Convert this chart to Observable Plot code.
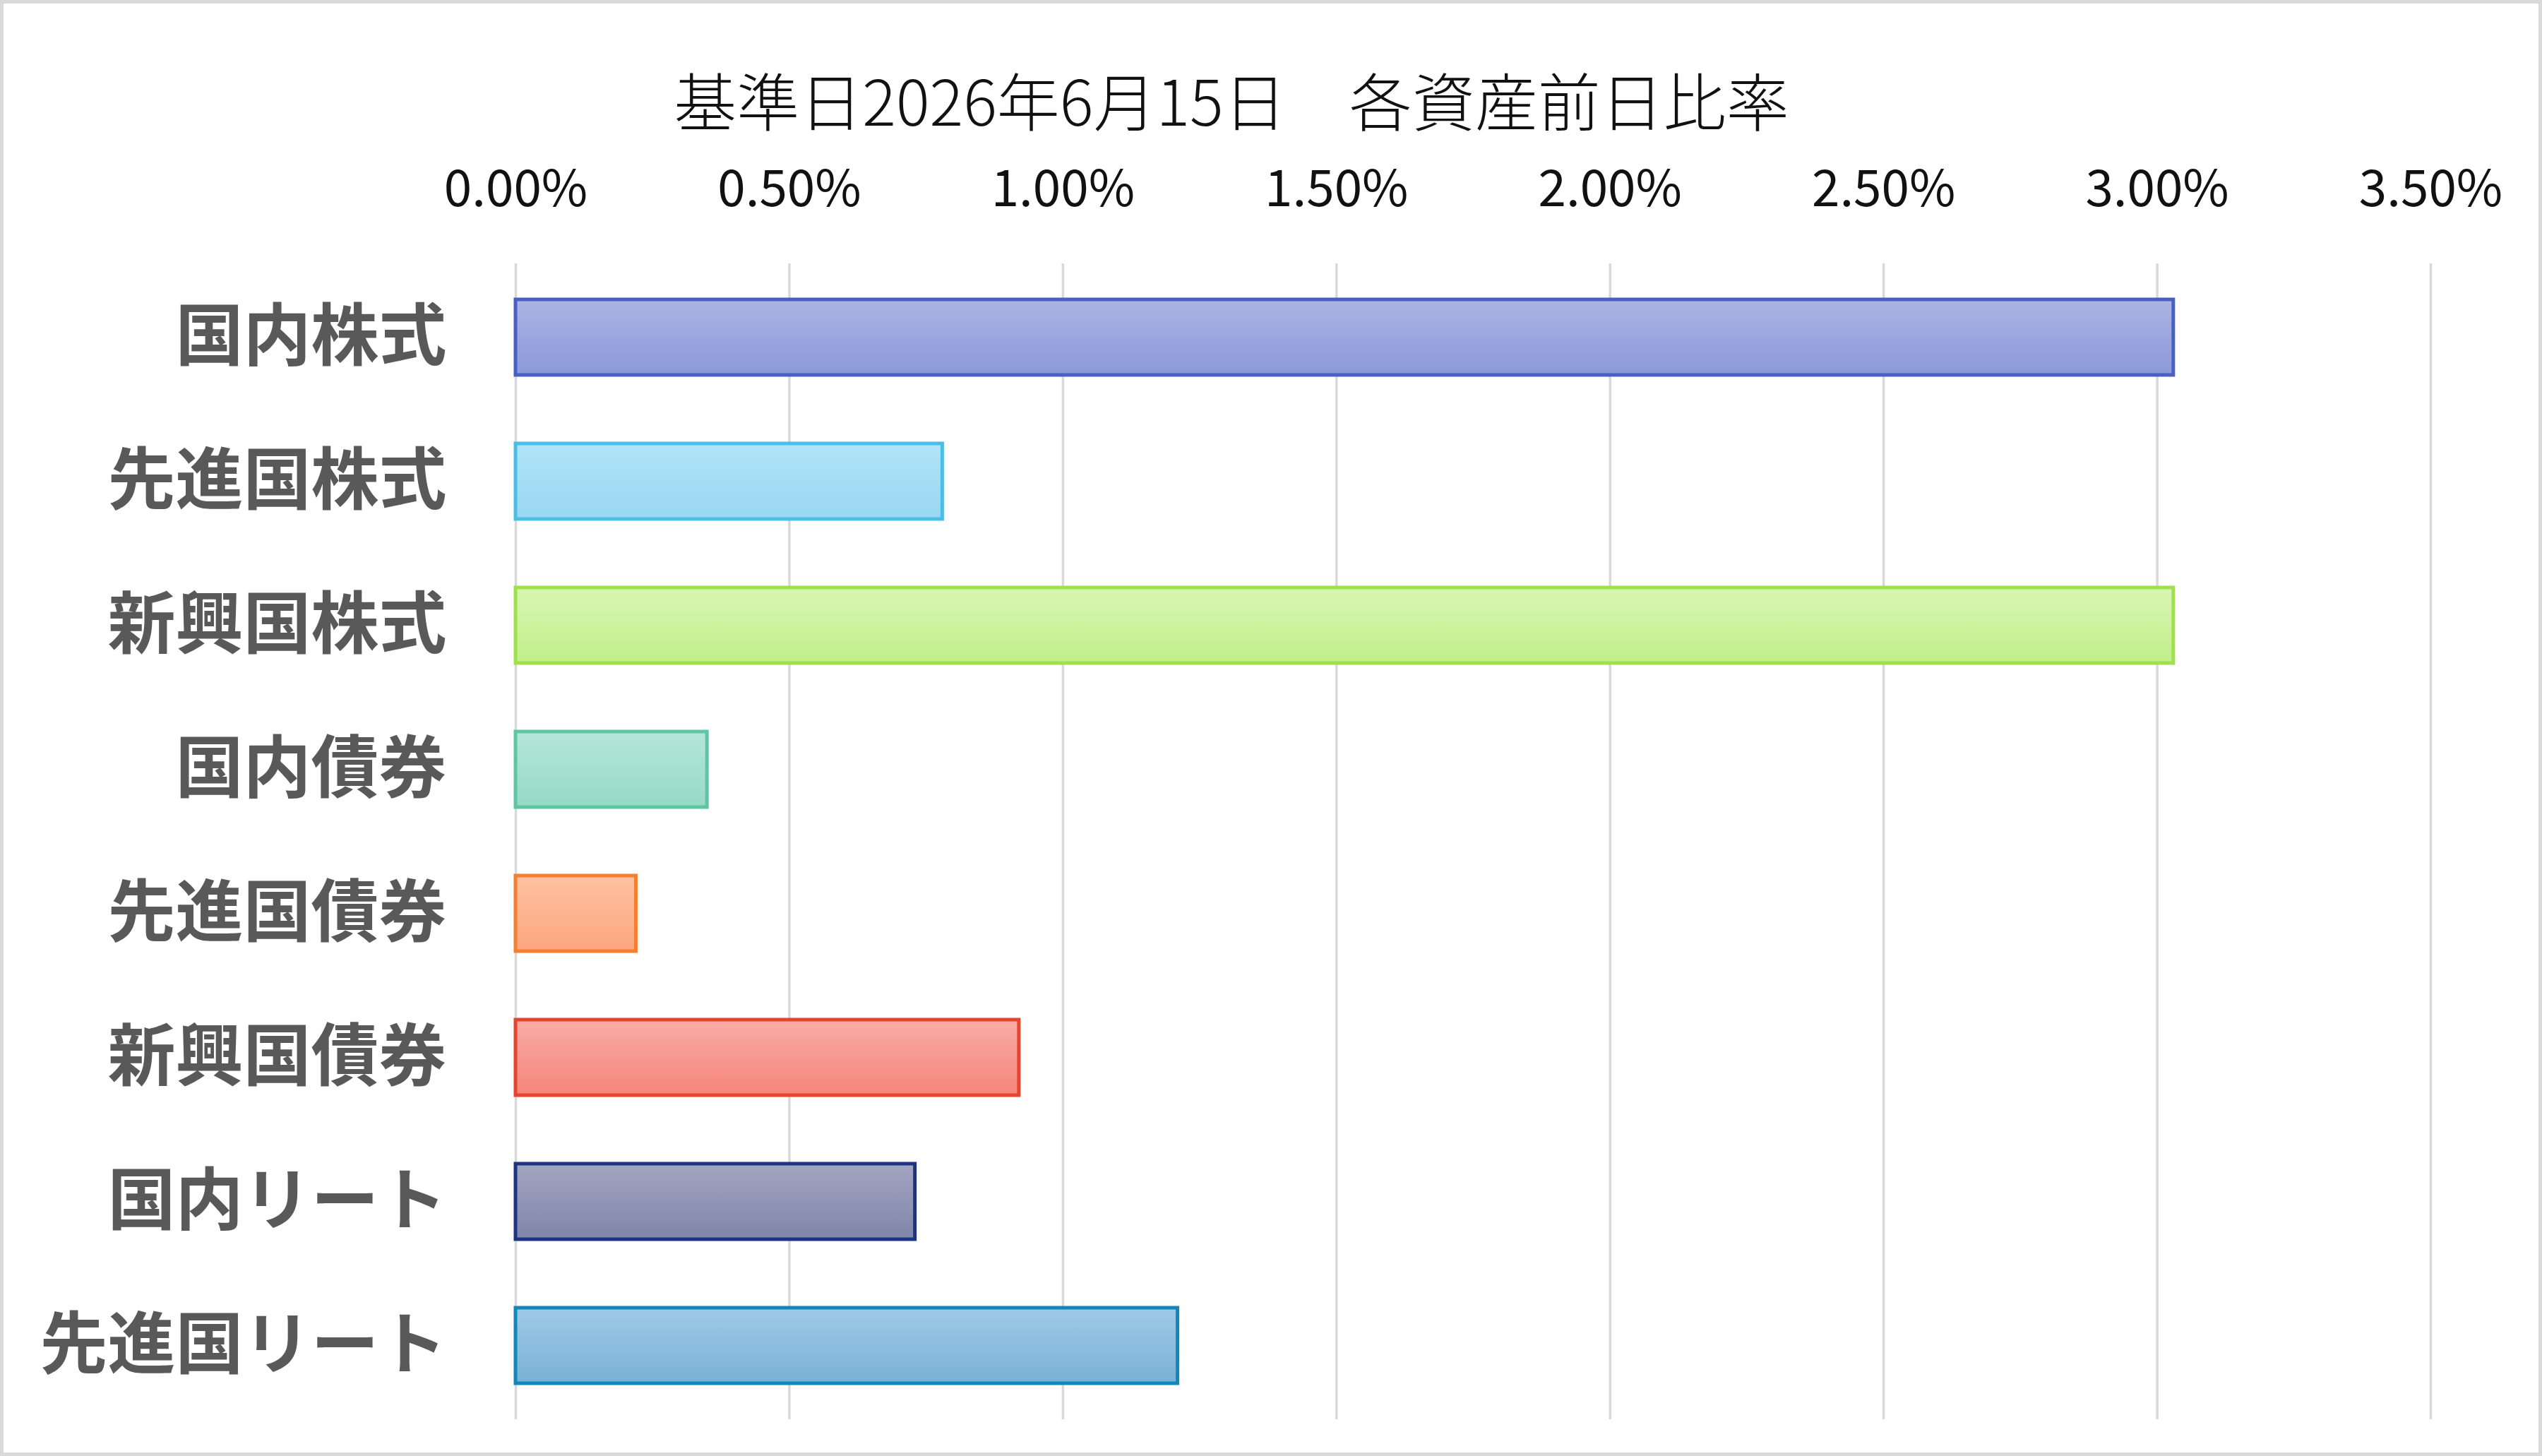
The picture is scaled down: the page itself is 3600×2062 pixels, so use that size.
<!DOCTYPE html>
<html>
<head>
<meta charset="utf-8">
<script src="https://cdn.jsdelivr.net/npm/d3@7"></script>
<script src="https://cdn.jsdelivr.net/npm/@observablehq/plot@0.6"></script>
<style>
  html, body { margin: 0; padding: 0; background: #fff; }
  #wrap { position: relative; width: 3600px; height: 2062px; background: #fff; overflow: hidden; }
  #border { position: absolute; left: 0; top: 0; width: 3600px; height: 2062px; box-sizing: border-box; border: 5px solid #d9d9d9; pointer-events: none; }
  #title { height: 200px; box-sizing: border-box; padding-top: 96px; padding-right: 112px; text-align: center;
           font-family: "Noto Sans CJK JP", sans-serif; font-weight: 300; font-size: 89px; line-height: 88px; color: #111; white-space: pre; }
  #chart svg { display: block; }
</style>
</head>
<body>
<div id="wrap">
  <div id="title">基準日2026年6月15日　各資産前日比率</div>
  <div id="chart"></div>
  <div id="border"></div>
</div>
<script>
// ---- data ----
const categories = ["国内株式", "先進国株式", "新興国株式", "国内債券", "先進国債券", "新興国債券", "国内リート", "先進国リート"];
const values = [3.03, 0.78, 3.03, 0.35, 0.22, 0.92, 0.73, 1.21];
const tickValues = [0, 0.5, 1.0, 1.5, 2.0, 2.5, 3.0, 3.5];
// gradient top / bottom and outline colours per category
const fillTop = ["#abb4e3", "#b0e4f9", "#d8f6b4", "#b4e7d8", "#ffc2a3", "#f9aca6", "#a3a5c1", "#9fcae6"];
const fillBottom = ["#8c99da", "#99d7f2", "#c0ef88", "#96dac4", "#fca67e", "#f6857c", "#8086aa", "#79b1d6"];
const strokeColors = ["#4a5fc2", "#4dbde6", "#a0e04c", "#60c4a7", "#f47f30", "#e4452f", "#1f3480", "#1487b8"];

const rows = categories.map((c, i) => ({
  category: c,
  value: values[i],
  fill: `url(#barGrad${i})`,
  stroke: strokeColors[i]
}));

const chart = Plot.plot({
  width: 3600,
  height: 1850,
  marginLeft: 730,
  marginRight: 158,
  marginTop: 173,
  marginBottom: 40,
  style: { fontFamily: "'Noto Sans CJK JP', sans-serif", background: "transparent", overflow: "visible" },
  x: { domain: [0, 3.5], label: null },
  y: { domain: categories, paddingInner: 0.476, paddingOuter: 0.238, label: null },
  color: { type: "identity" },
  marks: [
    Plot.gridX(tickValues, { stroke: "#d9d9d9", strokeOpacity: 1, strokeWidth: 3.5 }),
    Plot.barX(rows, { x: "value", y: "category", fill: "fill", stroke: "stroke", strokeWidth: 5 }),
    Plot.axisX(tickValues, { anchor: "top", tickSize: 0, tickPadding: 82, fontSize: 71, fill: "#111",
      tickFormat: d => d.toFixed(2) + "%", label: null }),
    Plot.axisY({ anchor: "left", tickSize: 0, tickPadding: 98, fontSize: 96, fontWeight: "bold", fill: "#595959", label: null })
  ]
});

// gradient definitions for bar fills
const svg = d3.select(chart);
const defs = svg.insert("defs", ":first-child");
categories.forEach((c, i) => {
  const g = defs.append("linearGradient").attr("id", `barGrad${i}`)
    .attr("x1", 0).attr("y1", 0).attr("x2", 0).attr("y2", 1);
  g.append("stop").attr("offset", "0%").attr("stop-color", fillTop[i]);
  g.append("stop").attr("offset", "100%").attr("stop-color", fillBottom[i]);
});

document.getElementById("chart").appendChild(chart);
</script>
</body>
</html>
